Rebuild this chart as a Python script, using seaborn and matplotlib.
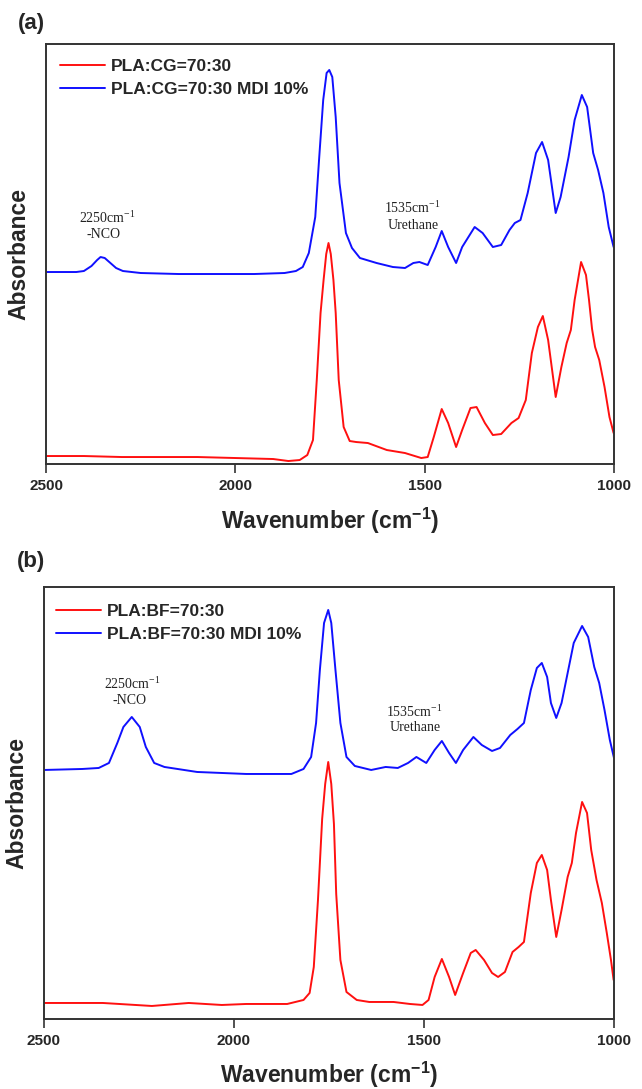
import matplotlib
matplotlib.use("Agg")
import numpy as np
import pandas as pd
import matplotlib.pyplot as plt
import seaborn as sns

# FTIR spectra, absorbance in arbitrary units
# panel (a): PLA:CG
wn_a_red = [2500, 2400, 2300, 2200, 2100, 2000, 1900, 1860, 1830, 1810, 1795, 1785,
            1775, 1767, 1760, 1754, 1748, 1741, 1735, 1727, 1714, 1698, 1681, 1650,
            1600, 1552, 1509, 1492, 1476, 1455, 1438, 1417, 1401, 1379, 1363, 1341,
            1320, 1298, 1271, 1252, 1233, 1217, 1201, 1188, 1174, 1154, 1139, 1125,
            1114, 1104, 1087, 1074, 1066, 1058, 1050, 1039, 1025, 1012, 1001]
abs_a_red = [8, 8, 7, 7, 7, 6, 5, 3, 4, 9, 24, 84,
             151, 184, 210, 221, 210, 184, 151, 84, 37, 23, 22, 21,
             14, 11, 6, 7, 27, 55, 41, 17, 34, 56, 57, 41,
             29, 30, 41, 46, 64, 111, 137, 148, 124, 67, 97, 121,
             134, 164, 202, 189, 164, 135, 117, 104, 77, 47, 31]

wn_a_blue = [2500, 2420, 2400, 2380, 2365, 2356, 2345, 2330, 2315, 2297, 2250, 2150,
             2050, 1950, 1870, 1840, 1822, 1806, 1789, 1779, 1768, 1759, 1752, 1744,
             1735, 1725, 1708, 1692, 1671, 1627, 1584, 1552, 1530, 1514, 1492, 1471,
             1455, 1438, 1417, 1401, 1368, 1347, 1320, 1298, 1276, 1262, 1247, 1228,
             1206, 1190, 1174, 1154, 1141, 1120, 1104, 1085, 1071, 1055, 1042, 1028,
             1014, 1001]
abs_a_blue = [192, 192, 193, 198, 204, 207, 206, 201, 196, 193, 191, 190,
              190, 190, 191, 193, 197, 211, 247, 304, 364, 391, 394, 387,
              347, 281, 231, 216, 206, 201, 197, 196, 201, 202, 199, 217,
              233, 217, 201, 217, 237, 231, 217, 219, 234, 241, 244, 271,
              311, 322, 304, 251, 267, 307, 344, 369, 357, 311, 294, 271,
              237, 217]

# panel (b): PLA:BF
wn_b_red = [2500, 2345, 2216, 2119, 2032, 1968, 1860, 1817, 1801, 1790, 1779, 1768,
            1760, 1752, 1744, 1737, 1731, 1720, 1704, 1677, 1644, 1580, 1537, 1504,
            1488, 1472, 1453, 1434, 1418, 1397, 1377, 1364, 1342, 1321, 1305, 1287,
            1267, 1251, 1237, 1219, 1203, 1190, 1176, 1166, 1152, 1138, 1122, 1111,
            1100, 1084, 1071, 1060, 1046, 1032, 1019, 1008, 1001]
abs_b_red = [16, 16, 13, 16, 14, 15, 15, 19, 26, 52, 119, 200,
             235, 257, 235, 195, 125, 59, 27, 19, 17, 17, 15, 14,
             19, 42, 60, 42, 24, 46, 66, 69, 59, 46, 42, 47,
             67, 72, 77, 126, 156, 164, 149, 119, 82, 109, 142, 156,
             186, 217, 206, 169, 139, 116, 86, 59, 39]

wn_b_blue = [2500, 2399, 2356, 2329, 2307, 2291, 2269, 2248, 2232, 2210, 2183, 2097,
             1968, 1849, 1817, 1797, 1784, 1774, 1763, 1752, 1744, 1733, 1720, 1704,
             1682, 1639, 1601, 1569, 1542, 1520, 1494, 1472, 1453, 1434, 1416, 1397,
             1370, 1348, 1321, 1300, 1273, 1254, 1237, 1219, 1203, 1190, 1176, 1166,
             1152, 1138, 1122, 1106, 1084, 1068, 1052, 1039, 1025, 1011, 1000]
abs_b_blue = [249, 250, 251, 256, 276, 292, 302, 292, 272, 256, 252, 247,
              245, 245, 250, 262, 296, 349, 396, 409, 396, 349, 296, 262,
              253, 249, 252, 251, 256, 262, 256, 269, 278, 266, 256, 269,
              282, 274, 268, 271, 284, 290, 296, 329, 351, 356, 342, 316,
              301, 316, 346, 376, 393, 382, 352, 336, 309, 279, 261]

labels_a = ["PLA:CG=70:30", "PLA:CG=70:30 MDI 10%"]
labels_b = ["PLA:BF=70:30", "PLA:BF=70:30 MDI 10%"]
xticks = [2500, 2000, 1500, 1000]

sns.set_style("white")
plt.rcParams['font.family'] = ['Liberation Sans', 'DejaVu Sans']
plt.rcParams['mathtext.fontset'] = 'custom'
plt.rcParams['mathtext.rm'] = 'Liberation Sans:bold'
plt.rcParams['mathtext.bf'] = 'Liberation Sans:bold'
plt.rcParams['mathtext.sf'] = 'Liberation Serif'

fig = plt.figure(figsize=(6.42, 10.89), dpi=100)
ax_a = fig.add_axes([0.0717, 0.5739, 0.8847, 0.3857])
ax_b = fig.add_axes([0.0685, 0.0643, 0.8879, 0.3967])


def draw_panel(ax, wn_r, ab_r, wn_bl, ab_bl, labels, ytop, leg_anchor, xl_y, notes):
    sns.lineplot(x=wn_r, y=ab_r, color="#ff1010", lw=1.4, label=labels[0], sort=False,
                 solid_joinstyle="round", ax=ax)
    sns.lineplot(x=wn_bl, y=ab_bl, color="#1010ff", lw=1.4, label=labels[1], sort=False,
                 solid_joinstyle="round", ax=ax)
    ax.set_xlim(2500, 1000)
    ax.set_ylim(0, ytop)
    ax.set_yticks([])
    ax.set_xticks(xticks)
    ax.set_xticklabels([str(t) for t in xticks], fontweight="bold")
    ax.tick_params(axis="x", direction="out", length=6.5, width=1.2, labelsize=11,
                   pad=4, color="#333333", bottom=True)
    for s in ax.spines.values():
        s.set_visible(True)
        s.set_linewidth(1.4)
        s.set_color("#333333")
    ax.set_xlabel("Wavenumber (cm$^{-1}$)", fontsize=16.5, fontweight="bold")
    ax.xaxis.set_label_coords(0.5, xl_y)
    ax.set_ylabel("Absorbance", fontsize=16.5, fontweight="bold")
    ax.yaxis.set_label_coords(-0.027, 0.5)
    ax.legend(loc="upper left", bbox_to_anchor=leg_anchor, frameon=False,
              prop={"weight": "bold", "size": 12.5}, handlelength=2.6,
              handletextpad=0.35, labelspacing=0.45, borderpad=0, borderaxespad=0)
    for (x, y, t) in notes:
        ax.text(x, y, t, ha="center", va="center", fontsize=10,
                family="Liberation Serif", color="#222222")


draw_panel(ax_a, wn_a_red, abs_a_red, wn_a_blue, abs_a_blue, labels_a, 420,
           (0.024, 0.965), -0.10,
           [(2339, 246, r"2250cm$^{\mathsf{-1}}$"), (2349, 230, "-NCO"),
            (1533, 256, r"1535cm$^{\mathsf{-1}}$"), (1531, 239, "Urethane")])
draw_panel(ax_b, wn_b_red, abs_b_red, wn_b_blue, abs_b_blue, labels_b, 432,
           (0.021, 0.961), -0.094,
           [(2268, 335, r"2250cm$^{\mathsf{-1}}$"), (2276, 318, "-NCO"),
            (1526, 307, r"1535cm$^{\mathsf{-1}}$"), (1524, 291, "Urethane")])

fig.text(31 / 642, 1 - 23 / 1089, "(a)", fontsize=16, fontweight="bold", ha="center", va="center")
fig.text(31 / 642, 1 - 562 / 1089, "(b)", fontsize=16, fontweight="bold", ha="center", va="center")

fig.savefig("out.png", dpi=100)
